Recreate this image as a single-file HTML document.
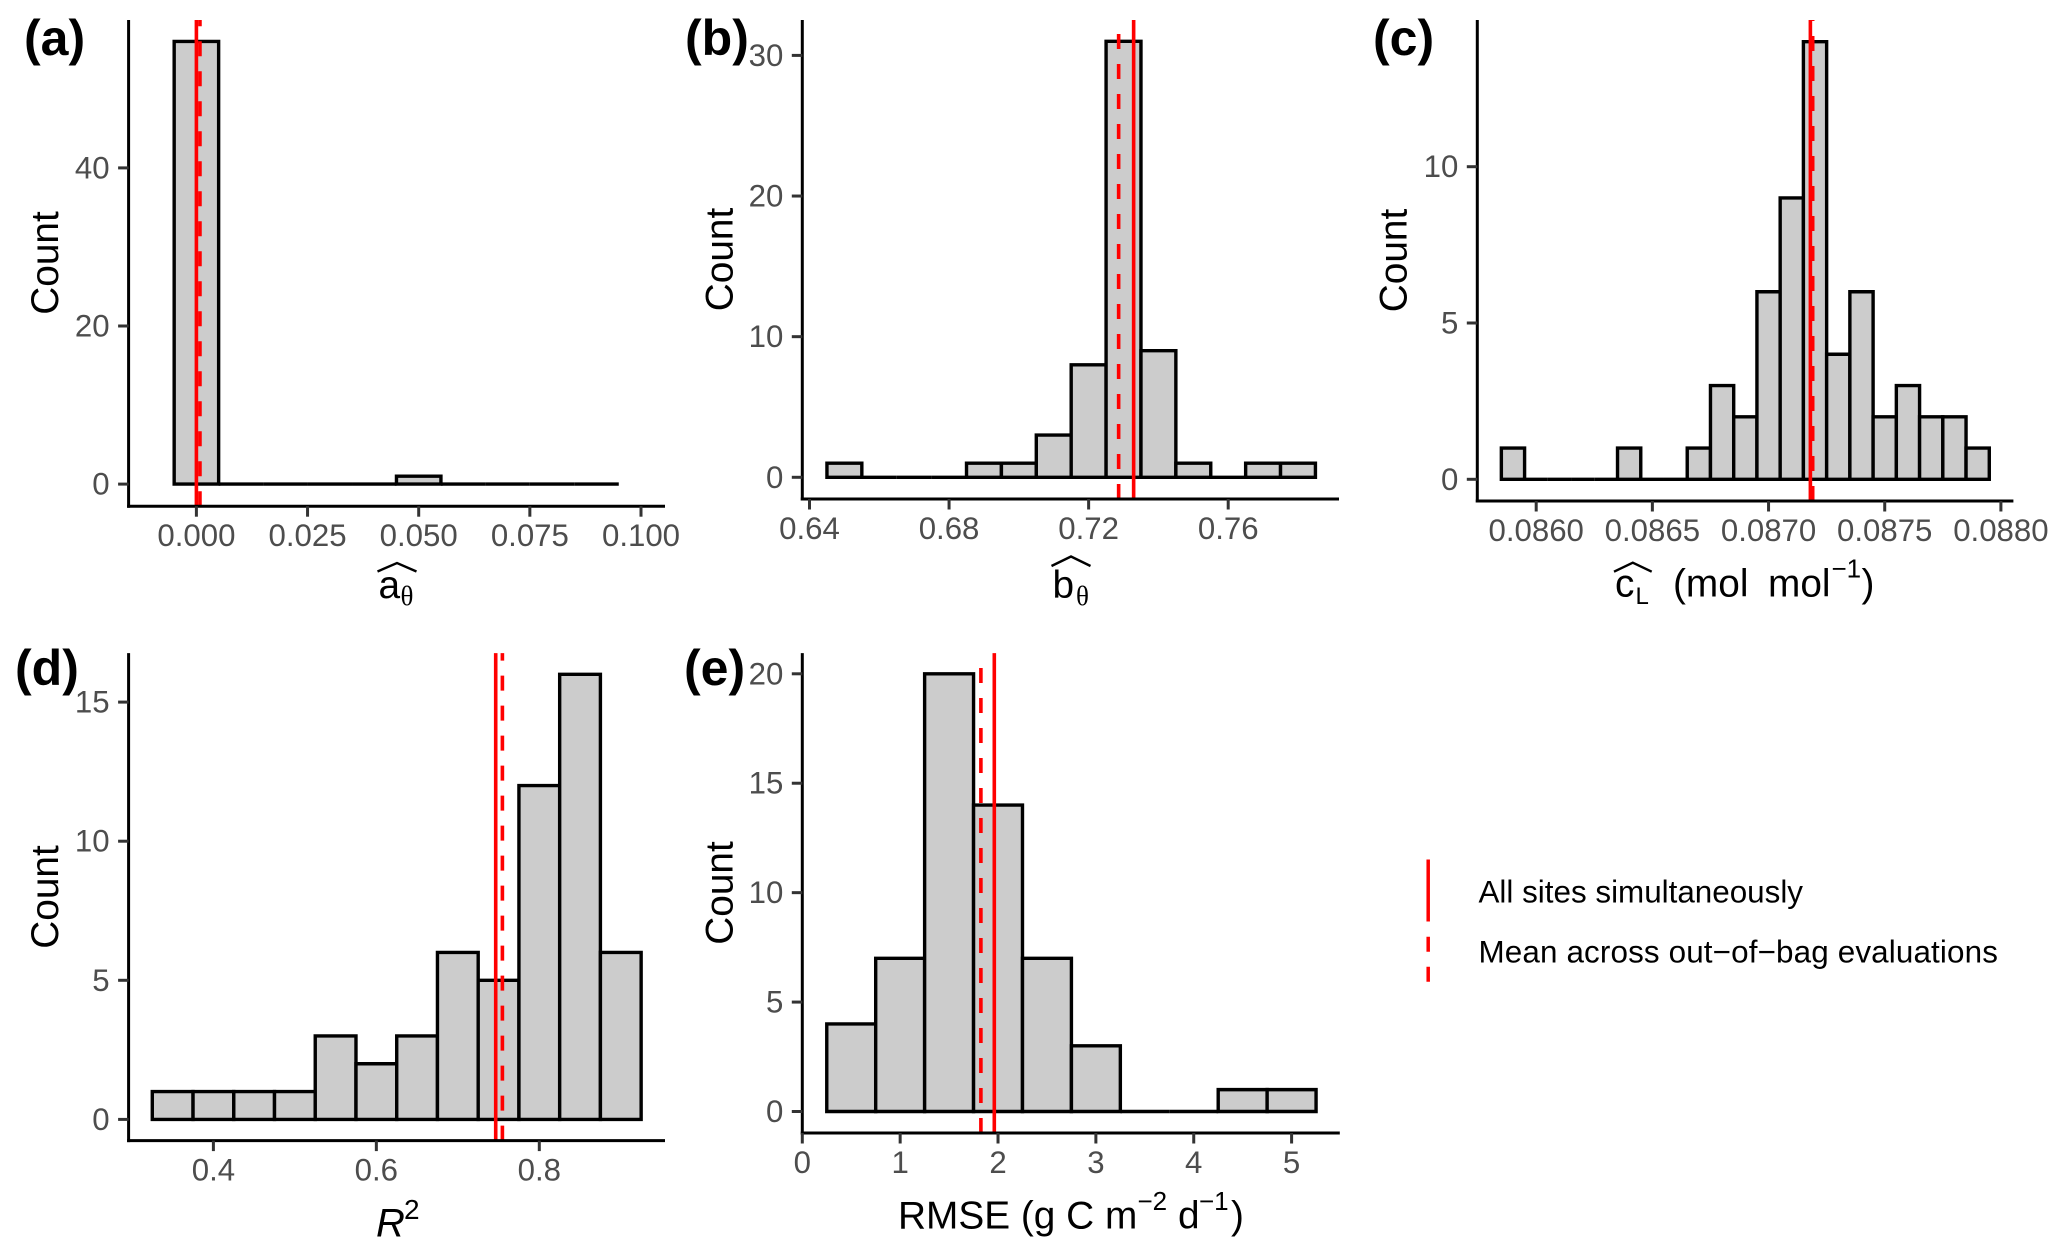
<!DOCTYPE html>
<html lang="en">
<head>
<meta charset="utf-8">
<title>Histograms of parameter estimates</title>
<style>
html,body{margin:0;padding:0;background:#fff;}
svg{display:block;font-family:"Liberation Sans",sans-serif;}
.panel-tag{font-size:50px;font-weight:bold;fill:#000;}
.axis-title{font-size:38.8px;fill:#000;}
.legend-text{font-size:31.4px;fill:#000;}
.hat{fill:none;stroke:#000;stroke-width:2.4;}
.sym{font-family:"Liberation Serif",serif;font-size:27px;}
.sup{font-size:26px;}
.sub{font-size:24px;}
</style>
</head>
<body>
<svg id="figure" xmlns="http://www.w3.org/2000/svg" width="2067" height="1255" viewBox="0 0 2067 1255">
  <rect x="0" y="0" width="2067" height="1255" fill="#fff"/>
  <g id="plots"></g>

  <text class="panel-tag" x="24" y="55">(a)</text>
  <text class="panel-tag" x="685" y="55">(b)</text>
  <text class="panel-tag" x="1373" y="55">(c)</text>
  <text class="panel-tag" x="15" y="685">(d)</text>
  <text class="panel-tag" x="684" y="685">(e)</text>

  <text class="axis-title" transform="translate(58 263) rotate(-90)" text-anchor="middle">Count</text>
  <text class="axis-title" transform="translate(732.7 259.5) rotate(-90)" text-anchor="middle">Count</text>
  <text class="axis-title" transform="translate(1406.3 260.5) rotate(-90)" text-anchor="middle">Count</text>
  <text class="axis-title" transform="translate(58 897) rotate(-90)" text-anchor="middle">Count</text>
  <text class="axis-title" transform="translate(732.7 893) rotate(-90)" text-anchor="middle">Count</text>

  <g>
    <path class="hat" d="M377.5 571.5 L397 563 L416.5 571.5"/>
    <text class="axis-title" x="378.5" y="597.8">a</text>
    <text class="sym" x="400.5" y="605">θ</text>
  </g>
  <g>
    <path class="hat" d="M1051.5 566 L1071 556.5 L1090.5 566"/>
    <text class="axis-title" x="1052.5" y="597.8">b</text>
    <text class="sym" x="1076" y="605">θ</text>
  </g>
  <g>
    <path class="hat" d="M1614 571.7 L1632.8 562.7 L1651.7 571.7"/>
    <text class="axis-title" x="1615" y="596.7">c</text>
    <text class="sub" x="1635.5" y="604">L</text>
    <text class="axis-title" x="1673" y="596.7">(mol</text>
    <text class="axis-title" x="1768" y="596.7">mol</text>
    <text class="sup" x="1831.5" y="577.3">−1</text>
    <text class="axis-title" x="1861.5" y="596.7">)</text>
  </g>
  <g>
    <text class="axis-title" font-style="italic" font-size="40" style="font-size:40px" x="376" y="1236.6">R</text>
    <text class="sup" style="font-size:28px" x="404" y="1219">2</text>
  </g>
  <g>
    <text class="axis-title" x="898" y="1228.3">RMSE (g C m</text>
    <text class="sup" x="1137.5" y="1210">−2</text>
    <text class="axis-title" x="1178" y="1228.3">d</text>
    <text class="sup" x="1199" y="1210">−1</text>
    <text class="axis-title" x="1231" y="1228.3">)</text>
  </g>

  <g>
    <line x1="1428.2" x2="1428.2" y1="859.5" y2="921.5" stroke="#ff0000" stroke-width="3.5"/>
    <text class="legend-text" x="1478.5" y="902.5">All sites simultaneously</text>
    <line x1="1428.2" x2="1428.2" y1="981.7" y2="936" stroke="#ff0000" stroke-width="3.5" stroke-dasharray="15 15"/>
    <text class="legend-text" x="1478.5" y="962.5" style="letter-spacing:.14px">Mean across out−of−bag evaluations</text>
  </g>
</svg>

<script>
// ---- Panel (a) data ----
const binsA = [0, 0.01, 0.02, 0.03, 0.04, 0.05, 0.06, 0.07, 0.08, 0.09];
const countsA = [56, 0, 0, 0, 0, 1, 0, 0, 0, 0];
const xTicksA = ["0.000", "0.025", "0.050", "0.075", "0.100"];
const yTicksA = ["0", "20", "40"];
const solidValueA = [0.0];
const dashedValueA = [0.0008];

// ---- Panel (b) data ----
const binsB = [0.65, 0.66, 0.67, 0.68, 0.69, 0.70, 0.71, 0.72, 0.73, 0.74, 0.75, 0.76, 0.77, 0.78];
const countsB = [1, 0, 0, 0, 1, 1, 3, 8, 31, 9, 1, 0, 1, 1];
const xTicksB = ["0.64", "0.68", "0.72", "0.76"];
const yTicksB = ["0", "10", "20", "30"];
const solidValueB = [0.7329];
const dashedValueB = [0.7286];

// ---- Panel (c) data ----
const binsC = [0.0859, 0.0860, 0.0861, 0.0862, 0.0863, 0.0864, 0.0865, 0.0866, 0.0867, 0.0868, 0.0869, 0.0870, 0.0871, 0.0872, 0.0873, 0.0874, 0.0875, 0.0876, 0.0877, 0.0878, 0.0879];
const countsC = [1, 0, 0, 0, 0, 1, 0, 0, 1, 3, 2, 6, 9, 14, 4, 6, 2, 3, 2, 2, 1];
const xTicksC = ["0.0860", "0.0865", "0.0870", "0.0875", "0.0880"];
const yTicksC = ["0", "5", "10"];
const solidValueC = [0.08718];
const dashedValueC = [0.08719];

// ---- Panel (d) data ----
const binsD = [0.35, 0.40, 0.45, 0.50, 0.55, 0.60, 0.65, 0.70, 0.75, 0.80, 0.85, 0.90];
const countsD = [1, 1, 1, 1, 3, 2, 3, 6, 5, 12, 16, 6];
const xTicksD = ["0.4", "0.6", "0.8"];
const yTicksD = ["0", "5", "10", "15"];
const solidValueD = [0.7465];
const dashedValueD = [0.7547];

// ---- Panel (e) data ----
const binsE = [0.5, 1.0, 1.5, 2.0, 2.5, 3.0, 3.5, 4.0, 4.5, 5.0];
const countsE = [4, 7, 20, 14, 7, 3, 0, 0, 1, 1];
const xTicksE = ["0", "1", "2", "3", "4", "5"];
const yTicksE = ["0", "5", "10", "15", "20"];
const solidValueE = [1.962];
const dashedValueE = [1.825];

const NS = "http://www.w3.org/2000/svg";
const plotsRoot = document.getElementById("plots");

function linearScale(domain, range) {
  const k = (range[1] - range[0]) / (domain[1] - domain[0]);
  return function (v) { return range[0] + (v - domain[0]) * k; };
}

function make(tag, parent, attrs) {
  const node = document.createElementNS(NS, tag);
  for (const key in attrs) { node.setAttribute(key, attrs[key]); }
  parent.appendChild(node);
  return node;
}

function drawPanel(id, frame, xScale, yScale, binWidth, bins, counts, xTicks, yTicks, solidValue, dashedValue) {
  const group = make("g", plotsRoot, {});
  
  

  const base = yScale(0);
  bins.forEach(function (center, i) {
    const x0 = xScale(center - binWidth / 2);
    const x1 = xScale(center + binWidth / 2);
    const top = yScale(counts[i]);
    const bar = make("path", group, {
      d: "M" + x0 + " " + base + " V" + top + " H" + x1 + " V" + base + " Z",
      fill: "#cccccc", stroke: "#000", "stroke-width": 3.4, "stroke-linejoin": "miter"
    });
    
    
  });

  solidValue.forEach(function (v) {
    const line = make("line", group, {
      x1: xScale(v), x2: xScale(v), y1: frame.bottom, y2: frame.top,
      stroke: "#ff0000", "stroke-width": 3.6
    });
    
    
  });
  dashedValue.forEach(function (v) {
    const line = make("line", group, {
      x1: xScale(v), x2: xScale(v), y1: frame.bottom, y2: frame.top,
      stroke: "#ff0000", "stroke-width": 3.6, "stroke-dasharray": "15 15"
    });
    
    
  });

  const yAxis = make("line", group, {
    x1: frame.left, x2: frame.left, y1: frame.top, y2: frame.bottom + 1.5, stroke: "#000", "stroke-width": 3
  });
  
  

  const xAxis = make("line", group, {
    x1: frame.left - 1.5, x2: frame.right, y1: frame.bottom, y2: frame.bottom, stroke: "#000", "stroke-width": 3
  });
  
  

  xTicks.forEach(function (label) {
    const px = xScale(parseFloat(label));
    const tick = make("line", group, {
      x1: px, x2: px, y1: frame.bottom, y2: frame.bottom + 10.5, stroke: "#333", "stroke-width": 3
    });
    
    
    const text = make("text", group, {
      x: px, y: frame.bottom + 40, "text-anchor": "middle", "font-size": 31.2, fill: "#4d4d4d"
    });
    text.textContent = label;
    
    
  });

  yTicks.forEach(function (label) {
    const py = yScale(parseFloat(label));
    const tick = make("line", group, {
      x1: frame.left - 10.5, x2: frame.left, y1: py, y2: py, stroke: "#333", "stroke-width": 3
    });
    
    
    const text = make("text", group, {
      x: frame.left - 19, y: py + 10.5, "text-anchor": "end", "font-size": 31.2, fill: "#4d4d4d"
    });
    text.textContent = label;
    
    
  });
}

drawPanel("a", { left: 128.6, right: 665, top: 20, bottom: 506.2 },
  linearScale([0, 0.1], [196.4, 641]), linearScale([0, 40], [484.1, 167.9]), 0.01,
  binsA, countsA, xTicksA, yTicksA, solidValueA, dashedValueA);

drawPanel("b", { left: 802.3, right: 1339, top: 20, bottom: 499 },
  linearScale([0.64, 0.76], [809.5, 1228.2]), linearScale([0, 30], [477.3, 55.4]), 0.01,
  binsB, countsB, xTicksB, yTicksB, solidValueB, dashedValueB);

drawPanel("c", { left: 1477.3, right: 2013.4, top: 20, bottom: 501 },
  linearScale([0.086, 0.088], [1536.2, 2000.9]), linearScale([0, 10], [479.3, 166.7]), 0.0001,
  binsC, countsC, xTicksC, yTicksC, solidValueC, dashedValueC);

drawPanel("d", { left: 128.6, right: 665, top: 653.1, bottom: 1140.6 },
  linearScale([0.4, 0.8], [213.4, 539.3]), linearScale([0, 15], [1119.4, 702.1]), 0.05,
  binsD, countsD, xTicksD, yTicksD, solidValueD, dashedValueD);

drawPanel("e", { left: 802.3, right: 1339.8, top: 653.1, bottom: 1133 },
  linearScale([0, 5], [802.3, 1291.6]), linearScale([0, 20], [1111.5, 673.8]), 0.5,
  binsE, countsE, xTicksE, yTicksE, solidValueE, dashedValueE);
</script>
</body>
</html>
